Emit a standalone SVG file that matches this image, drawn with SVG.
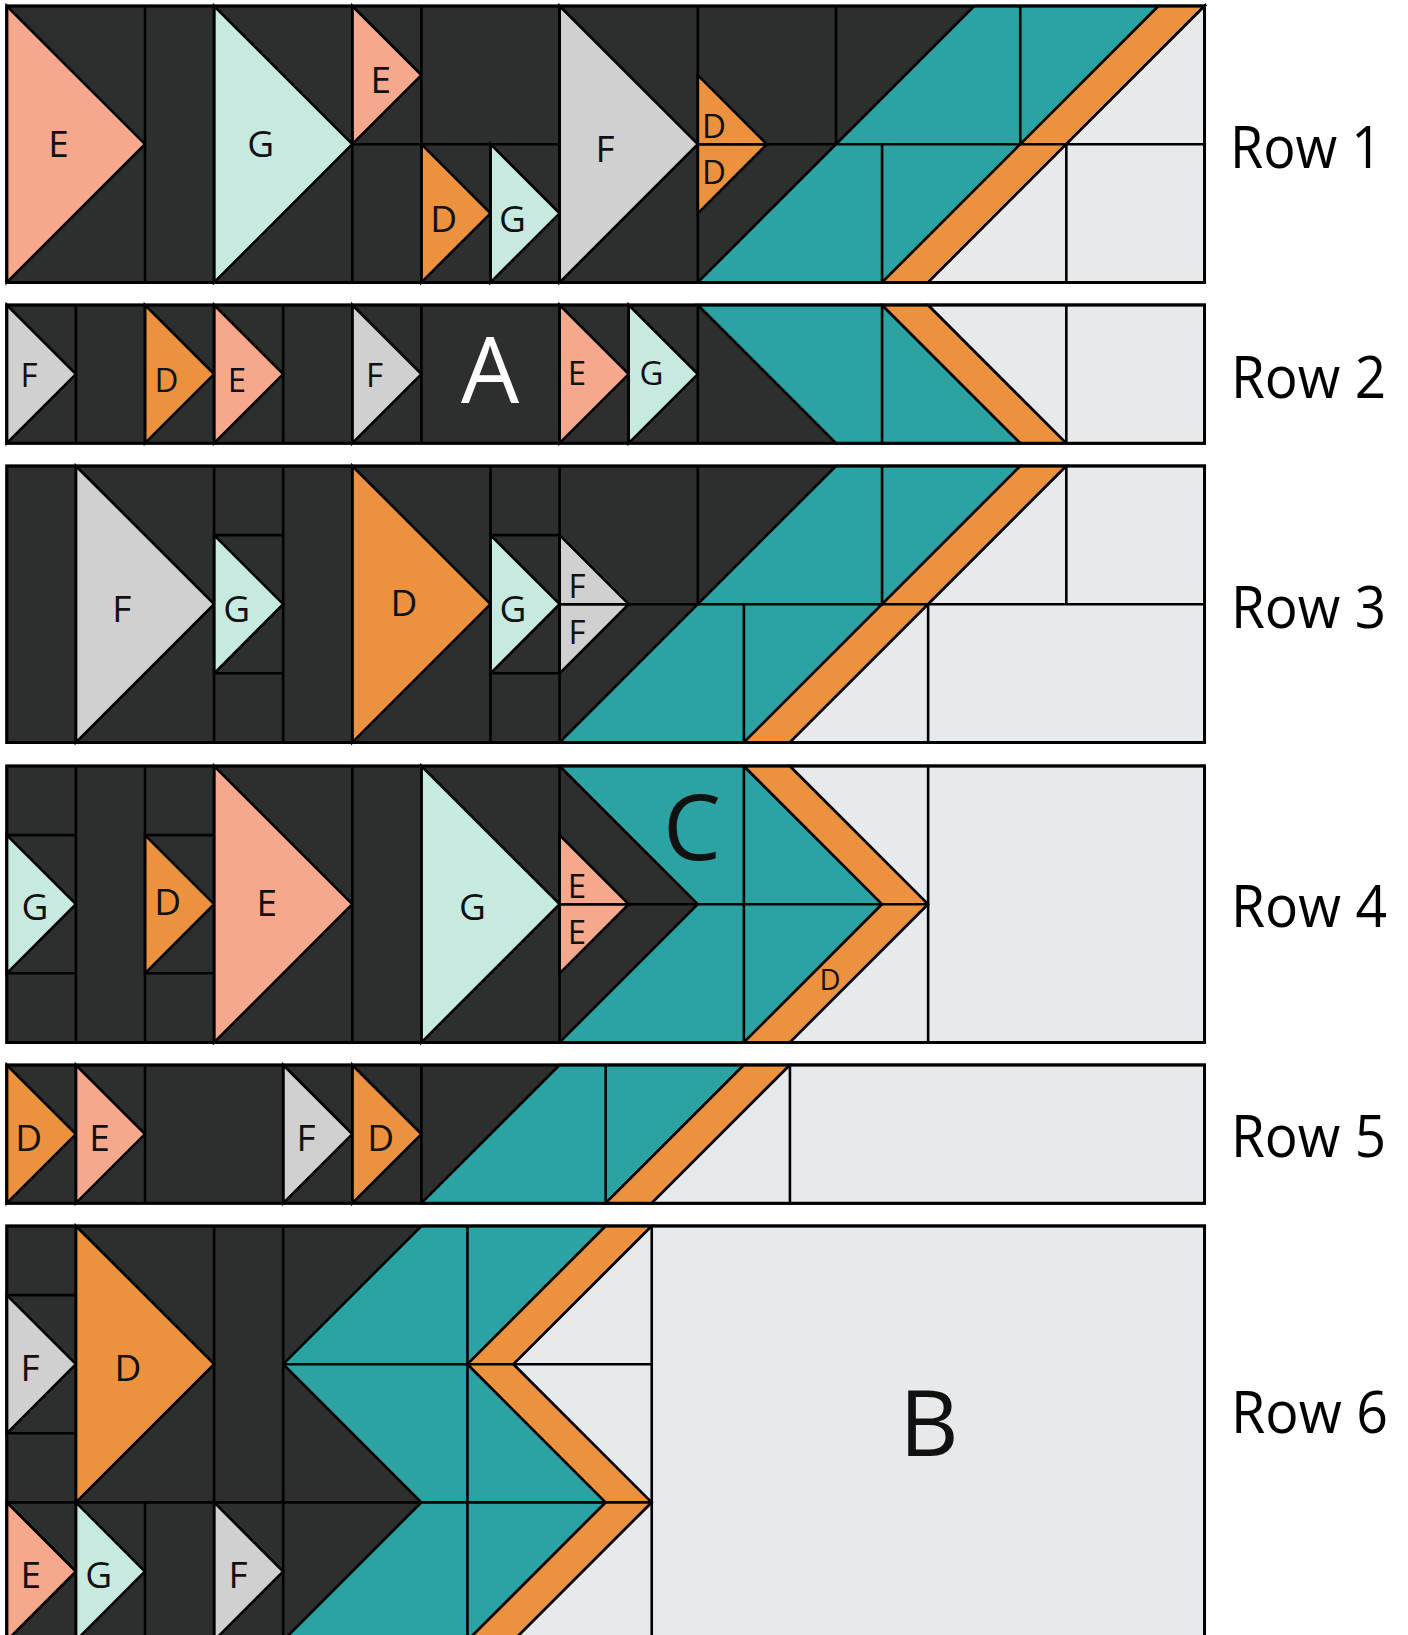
<svg xmlns="http://www.w3.org/2000/svg" width="1408" height="1635" viewBox="0 0 1408 1635">
<style>
.q rect,.q polygon,.q path{stroke:#000;stroke-width:2.6;vector-effect:non-scaling-stroke;stroke-linejoin:miter}
.dk{fill:#2d2f2e}
.tl{fill:#2ba3a3}
.or{fill:#ec923e}
.lt{fill:#e6eaec}
.E{fill:#f5a88c}
.G{fill:#c6eae0}
.F{fill:#d0d0d0}
.D{fill:#ec923e}
.q .ln{fill:none}
.q .bd{fill:none;stroke-width:3}
.t{font-family:"Open Sans","Noto Sans",sans-serif;font-size:37px;text-anchor:middle;fill:#111}
.s{font-size:33px}
.h{font-size:33px}
.big{font-size:92px}
.rl{font-family:"Open Sans","Noto Sans",sans-serif;font-size:59px;fill:#000}
</style>
<rect width="1408" height="1635" fill="#fff"/>

<g id="row1" class="q" transform="translate(6.8 6) scale(69.1)">
<rect class="dk" x="0" y="0" width="17.3333" height="4"/>
<polygon class="tl" points="14,0 16.6667,0 12.6667,4 10,4"/>
<polygon class="or" points="16.6667,0 17.3333,0 13.3333,4 12.6667,4"/>
<polygon class="lt" points="17.3333,0 17.3333,4 13.3333,4"/>
<polygon class="E" points="0,0 0,4 2,2"/>
<polygon class="G" points="3,0 3,4 5,2"/>
<polygon class="E" points="5,0 5,2 6,1"/>
<polygon class="D" points="6,2 6,4 7,3"/>
<polygon class="G" points="7,2 7,4 8,3"/>
<polygon class="F" points="8,0 8,4 10,2"/>
<polygon class="D" points="10,1 10,2 11,2"/>
<polygon class="D" points="10,2 10,3 11,2"/>
<path class="ln" d="M2 0V4M3 0V4M5 0V4M6 0V4M7 2V4M8 0V4M10 0V4M12 0V2M14.6667 0V2M12.6667 2V4M15.3333 2V4M5 2H8M10 2H17.3333"/>
<rect class="bd" x="0" y="0" width="17.3333" height="4"/>
</g>

<g id="row2" class="q" transform="translate(6.8 305) scale(69.1)">
<rect class="dk" x="0" y="0" width="17.3333" height="2"/>
<polygon class="tl" points="10,0 12.6667,0 14.6667,2 12,2"/>
<polygon class="or" points="12.6667,0 13.3333,0 15.3333,2 14.6667,2"/>
<polygon class="lt" points="13.3333,0 17.3333,0 17.3333,2 15.3333,2"/>
<polygon class="F" points="0,0 0,2 1,1"/>
<polygon class="D" points="2,0 2,2 3,1"/>
<polygon class="E" points="3,0 3,2 4,1"/>
<polygon class="F" points="5,0 5,2 6,1"/>
<polygon class="E" points="8,0 8,2 9,1"/>
<polygon class="G" points="9,0 9,2 10,1"/>
<path class="ln" d="M1 0V2M2 0V2M3 0V2M4 0V2M5 0V2M6 0V2M8 0V2M9 0V2M10 0V2M12.6667 0V2M15.3333 0V2"/>
<rect class="bd" x="0" y="0" width="17.3333" height="2"/>
</g>

<g id="row3" class="q" transform="translate(6.8 466) scale(69.1)">
<rect class="dk" x="0" y="0" width="17.3333" height="4"/>
<polygon class="tl" points="12,0 14.6667,0 10.6667,4 8,4"/>
<polygon class="or" points="14.6667,0 15.3333,0 11.3333,4 10.6667,4"/>
<polygon class="lt" points="15.3333,0 17.3333,0 17.3333,4 11.3333,4"/>
<polygon class="F" points="1,0 1,4 3,2"/>
<polygon class="G" points="3,1 3,3 4,2"/>
<polygon class="D" points="5,0 5,4 7,2"/>
<polygon class="G" points="7,1 7,3 8,2"/>
<polygon class="F" points="8,1 8,2 9,2"/>
<polygon class="F" points="8,2 8,3 9,2"/>
<path class="ln" d="M1 0V4M3 0V4M4 0V4M5 0V4M7 0V4M8 0V4M10 0V2M12.6667 0V2M15.3333 0V2M10.6667 2V4M13.3333 2V4M3 1H4M3 3H4M7 1H8M7 3H8M8 2H17.3333"/>
<rect class="bd" x="0" y="0" width="17.3333" height="4"/>
</g>

<g id="row4" class="q" transform="translate(6.8 766) scale(69.1)">
<rect class="dk" x="0" y="0" width="17.3333" height="4"/>
<polygon class="tl" points="8,0 10.6667,0 12.6667,2 10.6667,4 8,4 10,2"/>
<polygon class="or" points="10.6667,0 11.3333,0 13.3333,2 11.3333,4 10.6667,4 12.6667,2"/>
<polygon class="lt" points="11.3333,0 17.3333,0 17.3333,4 11.3333,4 13.3333,2"/>
<polygon class="G" points="0,1 0,3 1,2"/>
<polygon class="D" points="2,1 2,3 3,2"/>
<polygon class="E" points="3,0 3,4 5,2"/>
<polygon class="G" points="6,0 6,4 8,2"/>
<polygon class="E" points="8,1 8,2 9,2"/>
<polygon class="E" points="8,2 8,3 9,2"/>
<path class="ln" d="M1 0V4M2 0V4M3 0V4M5 0V4M6 0V4M8 0V4M10.6667 0V4M13.3333 0V4M0 1H1M0 3H1M2 1H3M2 3H3M8 2H13.3333"/>
<rect class="bd" x="0" y="0" width="17.3333" height="4"/>
</g>

<g id="row5" class="q" transform="translate(6.8 1065) scale(69.1)">
<rect class="dk" x="0" y="0" width="17.3333" height="2"/>
<polygon class="tl" points="8,0 10.6667,0 8.6667,2 6,2"/>
<polygon class="or" points="10.6667,0 11.3333,0 9.3333,2 8.6667,2"/>
<polygon class="lt" points="11.3333,0 17.3333,0 17.3333,2 9.3333,2"/>
<polygon class="D" points="0,0 0,2 1,1"/>
<polygon class="E" points="1,0 1,2 2,1"/>
<polygon class="F" points="4,0 4,2 5,1"/>
<polygon class="D" points="5,0 5,2 6,1"/>
<path class="ln" d="M1 0V2M2 0V2M4 0V2M5 0V2M6 0V2M8.6667 0V2M11.3333 0V2"/>
<rect class="bd" x="0" y="0" width="17.3333" height="2"/>
</g>

<g id="row6" class="q" transform="translate(6.8 1226) scale(69.1)">
<rect class="dk" x="0" y="0" width="17.3333" height="6"/>
<polygon class="tl" points="6,0 8.6667,0 6.6667,2 8.6667,4 6.6667,6 4,6 6,4 4,2"/>
<polygon class="or" points="8.6667,0 9.3333,0 7.3333,2 9.3333,4 7.3333,6 6.6667,6 8.6667,4 6.6667,2"/>
<polygon class="lt" points="9.3333,0 17.3333,0 17.3333,6 7.3333,6 9.3333,4 7.3333,2"/>
<polygon class="F" points="0,1 0,3 1,2"/>
<polygon class="D" points="1,0 1,4 3,2"/>
<polygon class="E" points="0,4 0,6 1,5"/>
<polygon class="G" points="1,4 1,6 2,5"/>
<polygon class="F" points="3,4 3,6 4,5"/>
<path class="ln" d="M1 0V6M3 0V6M4 0V6M2 4V6M6.6667 0V6M9.3333 0V6M0 1H1M0 3H1M0 4H9.3333M4 2H9.3333"/>
<rect class="bd" x="0" y="0" width="17.3333" height="6"/>
</g>

<g id="labels">
<text class="t" x="58.6" y="157">E</text>
<text class="t" x="260.8" y="157">G</text>
<text class="t" x="380.8" y="93">E</text>
<text class="t" x="605" y="162">F</text>
<text class="t" x="443.7" y="231.7">D</text>
<text class="t" x="512.5" y="231.7">G</text>
<text class="t h" x="714" y="138">D</text>
<text class="t h" x="714" y="183.7">D</text>

<text class="t s" x="29" y="386.7">F</text>
<text class="t s" x="166.5" y="391.7">D</text>
<text class="t s" x="237" y="391.7">E</text>
<text class="t s" x="374.5" y="386.7">F</text>
<text class="t big" x="490" y="403.3" style="fill:#fff">A</text>
<text class="t s" x="577" y="385">E</text>
<text class="t s" x="651.5" y="385">G</text>

<text class="t" x="121.7" y="621.7">F</text>
<text class="t" x="236.6" y="622.3">G</text>
<text class="t" x="404" y="615.7">D</text>
<text class="t" x="513" y="622">G</text>
<text class="t h" x="577" y="598">F</text>
<text class="t h" x="577" y="643.7">F</text>

<text class="t" x="35" y="920">G</text>
<text class="t" x="167.7" y="915">D</text>
<text class="t" x="266.8" y="915.7">E</text>
<text class="t" x="472.5" y="920">G</text>
<text class="t h" x="577" y="898">E</text>
<text class="t h" x="577" y="943.7">E</text>
<text class="t big" x="692" y="860">C</text>
<text class="t" x="830" y="990" style="font-size:29px">D</text>

<text class="t" x="28.8" y="1151">D</text>
<text class="t" x="99.5" y="1151">E</text>
<text class="t" x="306" y="1151">F</text>
<text class="t" x="380.6" y="1151">D</text>

<text class="t" x="30" y="1380.7">F</text>
<text class="t" x="128" y="1380.7">D</text>
<text class="t" x="30.8" y="1588.3">E</text>
<text class="t" x="98.7" y="1588.3">G</text>
<text class="t" x="238" y="1588.3">F</text>
<text class="t big" x="929" y="1456">B</text>
</g>

<g id="rowlabels">
<text class="rl" x="1230" y="168" textLength="152" lengthAdjust="spacingAndGlyphs">Row 1</text>
<text class="rl" x="1231" y="398" textLength="155" lengthAdjust="spacingAndGlyphs">Row 2</text>
<text class="rl" x="1231" y="628" textLength="155" lengthAdjust="spacingAndGlyphs">Row 3</text>
<text class="rl" x="1231" y="927" textLength="156" lengthAdjust="spacingAndGlyphs">Row 4</text>
<text class="rl" x="1231" y="1157" textLength="155" lengthAdjust="spacingAndGlyphs">Row 5</text>
<text class="rl" x="1231" y="1433" textLength="157" lengthAdjust="spacingAndGlyphs">Row 6</text>
</g>
</svg>
